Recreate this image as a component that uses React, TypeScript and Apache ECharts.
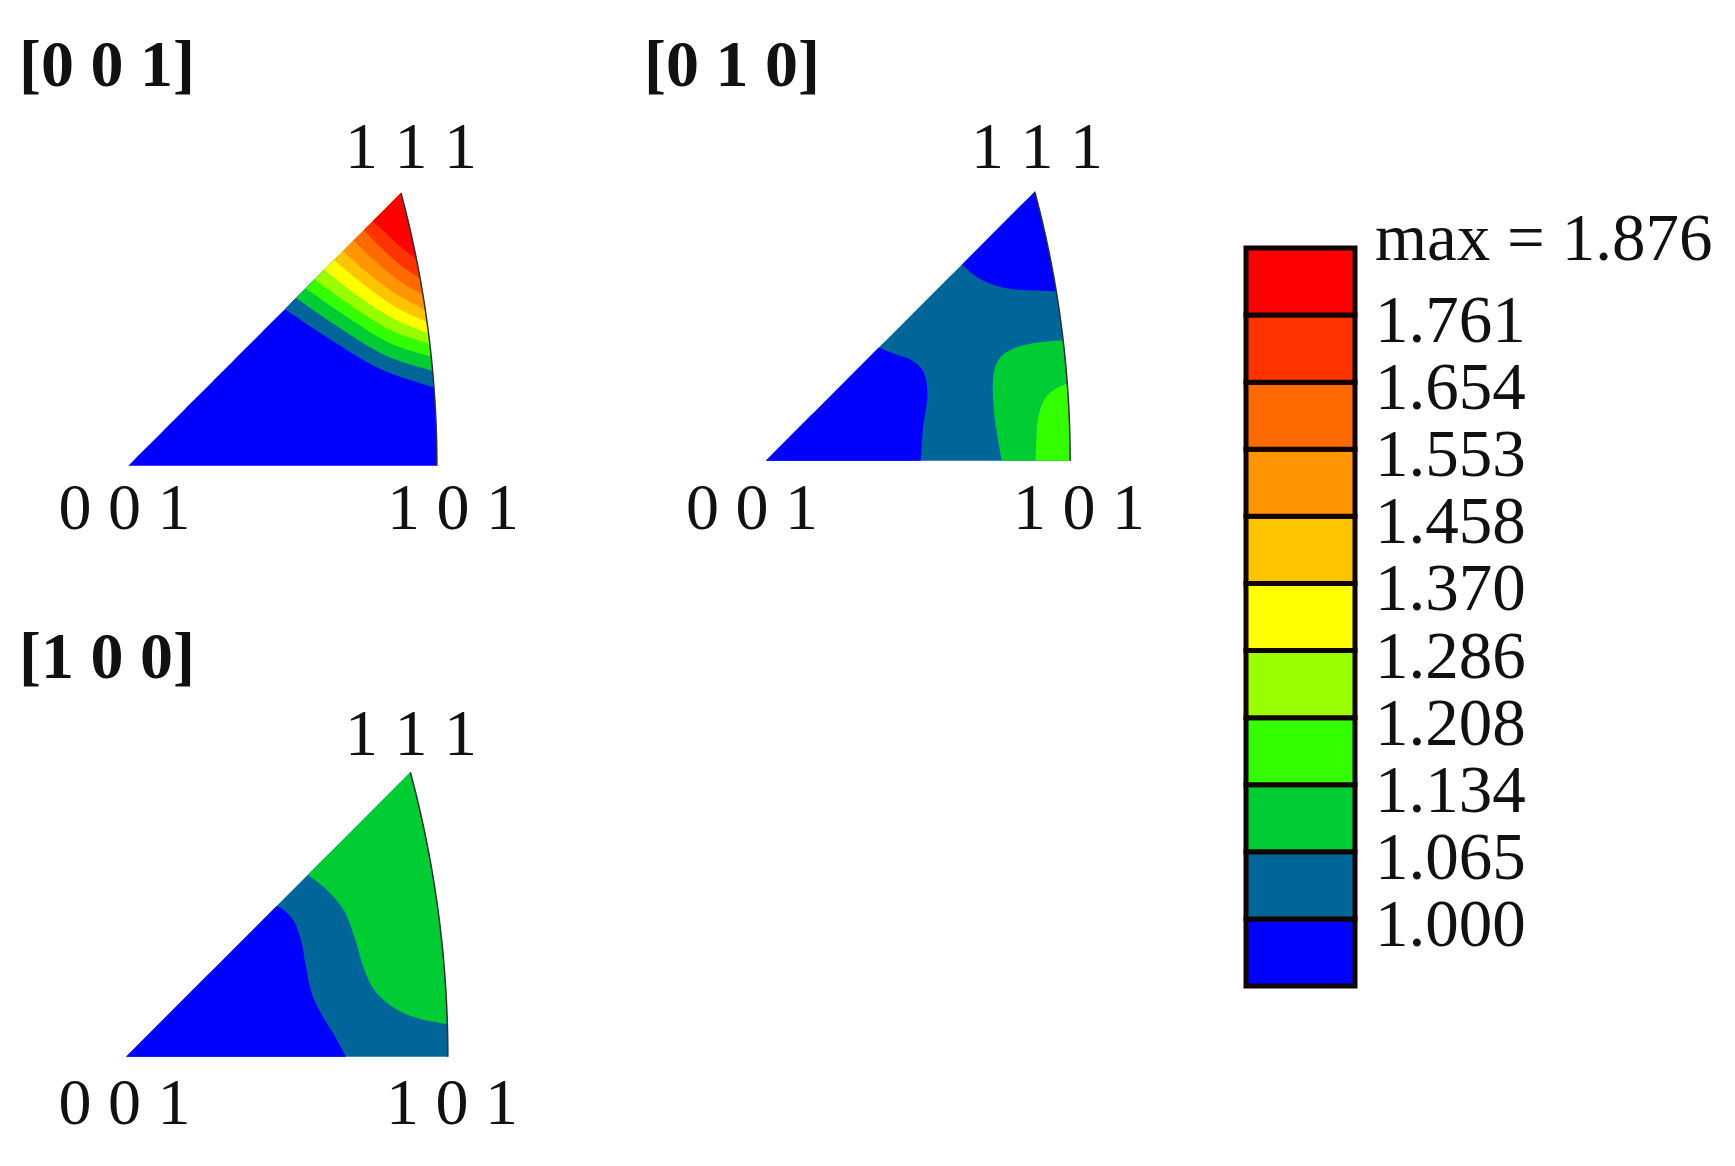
import React, { useEffect, useRef } from 'react';
import * as echarts from 'echarts';

// ---------- legend / levels ----------
const levelLabels = ['1.000', '1.065', '1.134', '1.208', '1.286', '1.370', '1.458', '1.553', '1.654', '1.761'];
const maxLabel = 'max = 1.876';
const bandColors = ['#0000FF', '#006699', '#00CC33', '#33FF00', '#99FF00', '#FFFF00', '#FFC400', '#FF9500', '#FF6A00', '#FF3300', '#FF0000'];

const panelTitles = ['[0 0 1]', '[0 1 0]', '[1 0 0]'];
const cornerNames = ['0 0 1', '1 0 1', '1 1 1'];

// ---------- [0 0 1] panel: contour lines (stereographic IPF coords), edge 001-111 -> arc 101-111 ----------
const c001_l1000 = [[0.210, 0.210], [0.275, 0.167], [0.340, 0.129], [0.409, 0.105]];
const c001_l1065 = [[0.225, 0.225], [0.285, 0.184], [0.345, 0.148], [0.407, 0.127]];
const c001_l1134 = [[0.238, 0.238], [0.293, 0.200], [0.350, 0.165], [0.404, 0.146]];
const c001_l1208 = [[0.250, 0.250], [0.300, 0.214], [0.352, 0.182], [0.402, 0.163]];
const c001_l1286 = [[0.263, 0.263], [0.308, 0.228], [0.355, 0.198], [0.399, 0.177]];
const c001_l1370 = [[0.276, 0.276], [0.315, 0.244], [0.357, 0.214], [0.397, 0.192]];
const c001_l1458 = [[0.288, 0.288], [0.322, 0.258], [0.360, 0.230], [0.393, 0.208]];
const c001_l1553 = [[0.302, 0.302], [0.330, 0.276], [0.361, 0.250], [0.389, 0.228]];
const c001_l1654 = [[0.316, 0.316], [0.338, 0.294], [0.363, 0.271], [0.385, 0.250]];
const c001_l1761 = [[0.328, 0.328], [0.345, 0.313], [0.364, 0.295], [0.380, 0.276]];

// ---------- [0 1 0] panel ----------
const c010_topBlue = [[0.267, 0.267], [0.287, 0.250], [0.311, 0.239], [0.340, 0.233], [0.392, 0.230]];
const c010_lowBlue = [[0.211, 0.0], [0.214, 0.044], [0.220, 0.088], [0.215, 0.120], [0.198, 0.137], [0.173, 0.146], [0.154, 0.154]];
const c010_l1065 = [[0.403, 0.164], [0.359, 0.159], [0.330, 0.149], [0.315, 0.134], [0.309, 0.107], [0.311, 0.063], [0.316, 0.029], [0.321, 0.0]];
const c010_l1134 = [[0.408, 0.105], [0.390, 0.095], [0.377, 0.079], [0.370, 0.054], [0.368, 0.024], [0.367, 0.0]];

// ---------- [1 0 0] panel ----------
const c100_lowBlue = [[0.283, 0.0], [0.269, 0.026], [0.252, 0.054], [0.239, 0.082], [0.231, 0.119], [0.226, 0.147], [0.217, 0.173], [0.204, 0.188], [0.194, 0.194]];
const c100_l1065 = [[0.234, 0.234], [0.257, 0.216], [0.280, 0.189], [0.294, 0.154], [0.306, 0.114], [0.321, 0.084], [0.348, 0.061], [0.381, 0.048], [0.412, 0.042]];

type Region = { band: number; pts: number[][] };

const regions001: Region[] = [
  { band: 1, pts: c001_l1000 }, { band: 2, pts: c001_l1065 }, { band: 3, pts: c001_l1134 },
  { band: 4, pts: c001_l1208 }, { band: 5, pts: c001_l1286 }, { band: 6, pts: c001_l1370 },
  { band: 7, pts: c001_l1458 }, { band: 8, pts: c001_l1553 }, { band: 9, pts: c001_l1654 },
  { band: 10, pts: c001_l1761 },
];
const regions010: Region[] = [
  { band: 0, pts: c010_topBlue }, { band: 0, pts: c010_lowBlue },
  { band: 2, pts: c010_l1065 }, { band: 3, pts: c010_l1134 },
];
const regions100: Region[] = [
  { band: 0, pts: c100_lowBlue }, { band: 2, pts: c100_l1065 },
];

// ---------- IPF geometry (standard triangle, stereographic projection) ----------
const X101 = Math.SQRT2 - 1;
const Y111 = (Math.sqrt(3) - 1) / 2;
const R = Math.SQRT2;
const ARC = Math.PI / 12;
const clamp = (v: number, a: number, b: number) => Math.max(a, Math.min(b, v));

function boundaryPoint(t: number): number[] {
  t = ((t % 3) + 3) % 3;
  if (t <= 1) return [t * X101, 0];
  if (t <= 2) {
    const a = (t - 1) * ARC;
    return [-1 + R * Math.cos(a), R * Math.sin(a)];
  }
  const s = 3 - t;
  return [s * Y111, s * Y111];
}

function boundaryParam(p: number[]): number {
  const [x, y] = p;
  const dB = Math.abs(y);
  const dA = Math.abs(Math.hypot(x + 1, y) - R);
  const dL = Math.abs(x - y) / Math.SQRT2;
  if (dB <= dA && dB <= dL) return clamp(x / X101, 0, 1);
  if (dA <= dL) return 1 + clamp(Math.atan2(y, x + 1) / ARC, 0, 1);
  return 3 - clamp((x + y) / 2 / Y111, 0, 1);
}

function walk(t0: number, t1: number): number[][] {
  if (t1 <= t0) t1 += 3;
  const N = 60;
  const out = [boundaryPoint(t0)];
  for (let i = Math.floor(t0 * N) + 1; i < t1 * N; i++) out.push(boundaryPoint(i / N));
  out.push(boundaryPoint(t1));
  return out;
}

function catmull(pts: number[][], seg: number): number[][] {
  if (pts.length < 3) return pts;
  const out: number[][] = [];
  for (let i = 0; i < pts.length - 1; i++) {
    const p0 = pts[Math.max(i - 1, 0)], p1 = pts[i], p2 = pts[i + 1], p3 = pts[Math.min(i + 2, pts.length - 1)];
    for (let k = 0; k < seg; k++) {
      const t = k / seg, t2 = t * t, t3 = t2 * t;
      out.push([0, 1].map((j) => 0.5 * (2 * p1[j] + (-p0[j] + p2[j]) * t + (2 * p0[j] - 5 * p1[j] + 4 * p2[j] - p3[j]) * t2 + (-p0[j] + 3 * p1[j] - 3 * p2[j] + p3[j]) * t3)));
    }
  }
  out.push(pts[pts.length - 1]);
  return out;
}

function panelSeries(idx: number, baseBand: number, regions: Region[]) {
  const items: any[] = [{ kind: 'base', band: baseBand }, ...regions.map((r) => ({ kind: 'region', ...r })), { kind: 'arc' }];
  return {
    type: 'custom',
    coordinateSystem: 'cartesian2d',
    xAxisIndex: idx,
    yAxisIndex: idx,
    clip: false,
    silent: true,
    data: items.map((_, i) => [i]),
    renderItem: (params: any, api: any) => {
      const it = items[params.dataIndex];
      const px = (p: number[]) => api.coord(p);
      if (it.kind === 'base') {
        return { type: 'polygon', z2: 0, shape: { points: walk(0, 3).map(px) }, style: { fill: bandColors[it.band] } };
      }
      if (it.kind === 'arc') {
        return { type: 'polyline', z2: 100, shape: { points: walk(1, 2).map(px) }, style: { stroke: '#303030', lineWidth: 1.5, fill: null } };
      }
      const pts = it.pts as number[][];
      const tA = boundaryParam(pts[0]);
      const tB = boundaryParam(pts[pts.length - 1]);
      const ctr = [boundaryPoint(tA), ...pts.slice(1, -1), boundaryPoint(tB)];
      const poly = catmull(ctr, 10).concat(walk(tB, tA));
      return { type: 'polygon', z2: params.dataIndex, shape: { points: poly.map(px) }, style: { fill: bandColors[it.band] } };
    },
  };
}

// panel placement: [origin x, origin y, pixels per unit]
const panelBoxes = [
  [128.3, 465.7, 745],
  [765.7, 460.7, 735],
  [126, 1056.7, 777],
];
const XMAX = 0.42;
const YMAX = 0.37;

const cornerPos = [
  [[124.5, 506], [453, 506], [411, 145]],
  [[752, 506], [1079, 506], [1037, 145]],
  [[124.5, 1101], [452, 1101], [411, 732]],
];
const titlePos = [[19, 63], [644, 63], [19, 655]];

const SERIF = '"Liberation Serif", "Times New Roman", serif';

export default function App() {
  const ref = useRef<HTMLDivElement>(null);
  useEffect(() => {
    if (!ref.current) return;
    const chart = echarts.init(ref.current, undefined, { renderer: 'svg' });

    const grids: any[] = panelBoxes.map(([ox, oy, s]) => ({
      left: ox, top: oy - YMAX * s, width: XMAX * s, height: YMAX * s,
    }));
    grids.push({ left: 1246, top: 248, width: 109, height: 738 });

    const xAxes: any[] = panelBoxes.map((_, i) => ({ type: 'value', gridIndex: i, min: 0, max: XMAX, show: false }));
    xAxes.push({ type: 'value', gridIndex: 3, min: 0, max: 1, show: false });
    const yAxes: any[] = panelBoxes.map((_, i) => ({ type: 'value', gridIndex: i, min: 0, max: YMAX, show: false }));
    yAxes.push({
      type: 'value', gridIndex: 3, min: 0, max: 11, interval: 1, position: 'right',
      axisLine: { show: false }, axisTick: { show: false }, splitLine: { show: false },
      axisLabel: {
        show: true, margin: 20, showMinLabel: true, showMaxLabel: true,
        formatter: (v: number) => (v === 11 ? '{m|' + maxLabel + '}' : v >= 1 ? '{n|' + levelLabels[Math.round(v) - 1] + '}' : ''),
        rich: {
          m: { fontFamily: SERIF, fontSize: 67, color: '#111', padding: [0, 0, 22, 0] },
          n: { fontFamily: SERIF, fontSize: 67, color: '#111', padding: [8, 0, 0, 0] },
        },
      },
    });

    const legendSeries = {
      type: 'custom',
      coordinateSystem: 'cartesian2d',
      xAxisIndex: 3,
      yAxisIndex: 3,
      silent: true,
      clip: false,
      data: bandColors.map((_, i) => [i]),
      renderItem: (params: any, api: any) => {
        const i = params.dataIndex;
        const a = api.coord([0, i]);
        const b = api.coord([1, i + 1]);
        return {
          type: 'rect',
          shape: { x: a[0], y: b[1], width: b[0] - a[0], height: a[1] - b[1] },
          style: { fill: bandColors[i], stroke: '#100404', lineWidth: 5 },
        };
      },
    };

    const graphics: any[] = [];
    panelTitles.forEach((t, i) => {
      graphics.push({
        type: 'text', x: titlePos[i][0], y: titlePos[i][1],
        style: { text: t, fontFamily: SERIF, fontSize: 66, fontWeight: 'bold', fill: '#111', align: 'left', verticalAlign: 'middle', textAlign: 'left', textVerticalAlign: 'middle' },
      });
      cornerNames.forEach((c, j) => {
        graphics.push({
          type: 'text', x: cornerPos[i][j][0], y: cornerPos[i][j][1],
          style: { text: c, fontFamily: SERIF, fontSize: 66, fill: '#111', align: 'center', verticalAlign: 'middle', textAlign: 'center', textVerticalAlign: 'middle' },
        });
      });
    });

    chart.setOption({
      animation: false,
      backgroundColor: '#ffffff',
      grid: grids,
      xAxis: xAxes,
      yAxis: yAxes,
      graphic: graphics,
      series: [
        panelSeries(0, 0, regions001),
        panelSeries(1, 1, regions010),
        panelSeries(2, 1, regions100),
        legendSeries,
      ],
    });
    return () => chart.dispose();
  }, []);
  return <div ref={ref} style={{ position: 'absolute', left: 0, top: 0, width: 1735, height: 1166 }} />;
}
